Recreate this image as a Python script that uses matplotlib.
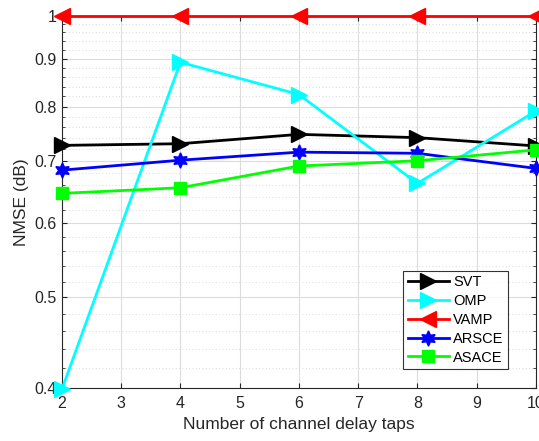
import matplotlib.pyplot as plt
import numpy as np
from matplotlib.ticker import FixedLocator, NullFormatter

plt.rcParams['font.family'] = ['Liberation Sans', 'DejaVu Sans']

# dane
taps = [2, 4, 6, 8, 10]
svt = [0.727, 0.730, 0.747, 0.741, 0.726]
omp = [0.399, 0.892, 0.824, 0.662, 0.791]
vamp = [1.0, 1.0, 1.0, 1.0, 1.0]
arsce = [0.684, 0.701, 0.715, 0.713, 0.687]
asace = [0.646, 0.655, 0.691, 0.700, 0.719]

fig = plt.figure(figsize=(5.39, 4.41), dpi=100)
ax = fig.add_axes([0.115, 0.12, 0.879, 0.844])

lw = 2
opts = dict(lw=lw, clip_on=False, zorder=3)
ax.plot(taps, svt, color='black', marker='>', markersize=11, label='SVT', **opts)
ax.plot(taps, omp, color='cyan', marker='>', markersize=11, label='OMP', **opts)
ax.plot(taps, vamp, color='red', marker='<', markersize=11, label='VAMP', **opts)
ax.plot(taps, arsce, color='blue', marker=(6, 1, 0), markersize=11, label='ARSCE', **opts)
ax.plot(taps, asace, color='#00ff00', marker='s', markersize=8, label='ASACE', **opts)

ax.set_yscale('log')
ax.set_xlim(2, 10)
ax.set_ylim(0.4, 1.0)
ax.yaxis.set_major_locator(FixedLocator([0.4, 0.5, 0.6, 0.7, 0.8, 0.9, 1.0]))
ax.set_yticklabels(['0.4', '0.5', '0.6', '0.7', '0.8', '0.9', '1'])
ax.yaxis.set_minor_locator(FixedLocator(np.arange(0.42, 1.0, 0.02)))
ax.yaxis.set_minor_formatter(NullFormatter())
ax.set_xticks(range(2, 11))

ax.grid(True, which='major', color='#dcdcdc', lw=0.8)
ax.grid(True, which='minor', axis='y', color='#cfcfcf', lw=0.6, linestyle=(0, (1, 3)))
ax.set_axisbelow(True)
ax.tick_params(which='both', direction='in', right=True, top=True, labelsize=11.5, colors='#262626')
ax.tick_params(axis='x', pad=6)
for s in ax.spines.values():
    s.set_color('#262626')

ax.set_xlabel('Number of channel delay taps', fontsize=12.5, color='#262626')
ax.set_ylabel('NMSE (dB)', fontsize=12.5, color='#262626')

leg = ax.legend(loc='lower right', bbox_to_anchor=(0.956, 0.032), fancybox=False,
                edgecolor='black', fontsize=10.5, handlelength=2.8,
                borderpad=0.3, labelspacing=0.33, handletextpad=0.3)
leg.get_frame().set_linewidth(0.8)
leg.set_zorder(5)

fig.savefig('out.png', dpi=100)
